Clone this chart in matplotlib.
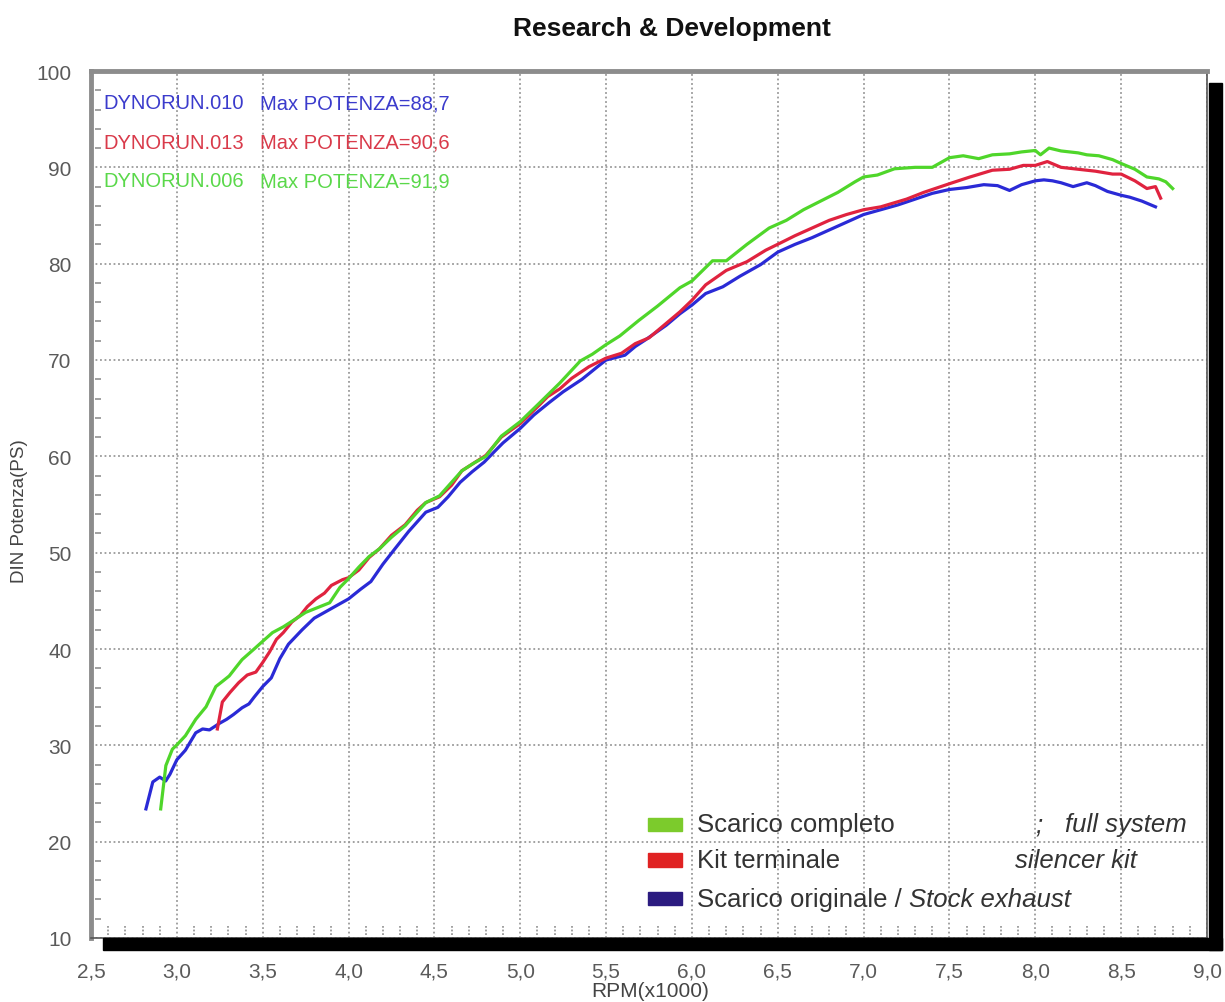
import matplotlib
matplotlib.use("Agg")
import matplotlib.pyplot as plt
from matplotlib.patches import Rectangle

plt.rcParams['font.family'] = ['Liberation Sans', 'DejaVu Sans']

# ---------------- data ----------------
stock_rpm = [2.82, 2.86, 2.90, 2.935, 2.96, 3.00, 3.05, 3.11, 3.15, 3.19, 3.25, 3.29, 3.33, 3.38,
             3.42, 3.45, 3.50, 3.55, 3.60, 3.65, 3.73, 3.80, 3.89, 3.95, 4.00, 4.07, 4.13, 4.20,
             4.27, 4.35, 4.45, 4.52, 4.58, 4.65, 4.72, 4.79, 4.85, 4.90, 5.00, 5.08, 5.17, 5.25,
             5.36, 5.45, 5.50, 5.61, 5.67, 5.73, 5.85, 5.93, 6.00, 6.08, 6.18, 6.28, 6.40, 6.50,
             6.60, 6.70, 6.80, 6.90, 7.00, 7.10, 7.20, 7.30, 7.40, 7.50, 7.60, 7.70, 7.78, 7.85,
             7.92, 8.00, 8.05, 8.10, 8.15, 8.22, 8.30, 8.35, 8.42, 8.50, 8.55, 8.62, 8.70]
stock_ps = [23.4, 26.2, 26.7, 26.3, 27.0, 28.5, 29.5, 31.3, 31.7, 31.6, 32.3, 32.7, 33.2, 33.9,
            34.3, 35.0, 36.1, 37.0, 39.0, 40.5, 42.0, 43.2, 44.1, 44.7, 45.2, 46.2, 47.0, 48.8,
            50.4, 52.2, 54.2, 54.7, 55.8, 57.3, 58.4, 59.4, 60.5, 61.4, 62.9, 64.3, 65.6, 66.7,
            68.0, 69.3, 70.0, 70.5, 71.4, 72.1, 73.6, 74.8, 75.7, 76.9, 77.6, 78.7, 79.9, 81.2,
            82.0, 82.7, 83.5, 84.3, 85.1, 85.6, 86.1, 86.7, 87.3, 87.7, 87.9, 88.2, 88.1, 87.6,
            88.2, 88.6, 88.7, 88.6, 88.4, 88.0, 88.4, 88.1, 87.5, 87.1, 86.9, 86.5, 85.9]

kit_rpm = [3.236, 3.265, 3.31, 3.36, 3.41, 3.46, 3.50, 3.54, 3.58, 3.62, 3.67, 3.72, 3.76, 3.81,
           3.86, 3.90, 3.965, 4.00, 4.06, 4.12, 4.18, 4.25, 4.33, 4.40, 4.45, 4.53, 4.60, 4.66,
           4.73, 4.80, 4.89, 5.00, 5.11, 5.16, 5.23, 5.30, 5.40, 5.50, 5.59, 5.67, 5.75, 5.85,
           5.93, 6.00, 6.08, 6.20, 6.32, 6.43, 6.51, 6.60, 6.70, 6.80, 6.90, 7.00, 7.10, 7.25,
           7.35, 7.50, 7.62, 7.75, 7.85, 7.93, 8.00, 8.07, 8.15, 8.25, 8.35, 8.45, 8.50, 8.58,
           8.65, 8.70, 8.73]
kit_ps = [31.7, 34.5, 35.5, 36.5, 37.3, 37.6, 38.6, 39.7, 41.0, 41.7, 42.8, 43.5, 44.4, 45.2,
          45.8, 46.6, 47.2, 47.4, 48.2, 49.5, 50.4, 51.8, 52.9, 54.4, 55.2, 55.8, 57.0, 58.5,
          59.3, 60.1, 62.0, 63.4, 65.3, 66.2, 67.0, 68.1, 69.3, 70.2, 70.7, 71.7, 72.3, 73.8,
          75.0, 76.2, 77.8, 79.3, 80.2, 81.4, 82.1, 82.9, 83.7, 84.5, 85.1, 85.6, 85.9, 86.7,
          87.4, 88.3, 89.0, 89.7, 89.8, 90.2, 90.2, 90.6, 90.0, 89.8, 89.6, 89.3, 89.3, 88.6,
          87.8, 88.0, 86.8]

full_rpm = [2.906, 2.936, 2.974, 3.003, 3.05, 3.11, 3.17, 3.227, 3.27, 3.305, 3.34, 3.38, 3.45,
            3.50, 3.557, 3.62, 3.69, 3.75, 3.82, 3.89, 3.95, 4.00, 4.06, 4.12, 4.18, 4.25, 4.33,
            4.40, 4.45, 4.53, 4.60, 4.66, 4.73, 4.80, 4.89, 5.00, 5.11, 5.23, 5.35, 5.42, 5.50,
            5.58, 5.69, 5.80, 5.93, 6.00, 6.12, 6.20, 6.32, 6.45, 6.55, 6.65, 6.75, 6.85, 6.95,
            7.00, 7.08, 7.18, 7.30, 7.40, 7.50, 7.58, 7.67, 7.75, 7.85, 7.92, 8.00, 8.03, 8.08,
            8.15, 8.25, 8.30, 8.37, 8.45, 8.50, 8.58, 8.65, 8.72, 8.76, 8.80]
full_ps = [23.4, 27.9, 29.6, 30.1, 31.0, 32.7, 34.0, 36.1, 36.7, 37.2, 38.0, 38.9, 40.0,
           40.8, 41.7, 42.3, 43.1, 43.8, 44.3, 44.8, 46.4, 47.3, 48.5, 49.6, 50.4, 51.6, 52.8,
           54.2, 55.2, 55.9, 57.3, 58.5, 59.3, 60.0, 62.1, 63.6, 65.5, 67.6, 69.9, 70.6, 71.6,
           72.5, 74.1, 75.6, 77.5, 78.2, 80.3, 80.3, 82.0, 83.7, 84.5, 85.6, 86.5, 87.4, 88.5,
           89.0, 89.2, 89.85, 90.0, 90.0, 91.0, 91.2, 90.9, 91.3, 91.4, 91.6, 91.75, 91.3, 92.0,
           91.7, 91.5, 91.3, 91.2, 90.8, 90.4, 89.8, 89.0, 88.8, 88.5, 87.8]

x_ticks = [2.5, 3.0, 3.5, 4.0, 4.5, 5.0, 5.5, 6.0, 6.5, 7.0, 7.5, 8.0, 8.5, 9.0]
x_labels = ["2,5", "3,0", "3,5", "4,0", "4,5", "5,0", "5,5", "6,0", "6,5", "7,0", "7,5",
            "8,0", "8,5", "9,0"]
y_ticks = [10, 20, 30, 40, 50, 60, 70, 80, 90, 100]
x_minor = [v / 10 for v in range(26, 90) if v % 5 != 0]
y_minor = [v for v in range(12, 100, 2) if v % 10 != 0]

run_names = ["DYNORUN.010", "DYNORUN.013", "DYNORUN.006"]
run_max = ["Max POTENZA=88,7", "Max POTENZA=90,6", "Max POTENZA=91,9"]
legend_it = ["Scarico completo", "Kit terminale", "Scarico originale / "]
legend_en = ["full system", "silencer kit", "Stock exhaust"]

# ---------------- figure ----------------
W, H = 1225, 1003
fig = plt.figure(figsize=(W / 100, H / 100), dpi=100)
L, R, T, B = 91, 1207, 72, 939
ax = fig.add_axes([L / W, 1 - B / H, (R - L) / W, (B - T) / H])

c_blue, c_red, c_green = "#2a2ad6", "#e0233f", "#4fd62a"

ax.plot(stock_rpm, stock_ps, color=c_blue, lw=2.3, zorder=3)
ax.plot(kit_rpm, kit_ps, color=c_red, lw=2.3, zorder=4)
ax.plot(full_rpm, full_ps, color=c_green, lw=2.3, zorder=5)

ax.set_xlim(2.5, 9.0)
ax.set_ylim(10, 100)
ax.set_xticks(x_ticks)
ax.set_xticklabels(x_labels)
ax.set_yticks(y_ticks)

ax.grid(True, which="major", color="#9a9a9a", lw=1.3, linestyle=(0, (1, 1.5)))
ax.tick_params(which="major", length=0, labelsize=15, labelcolor="#5a5a5a")
ax.tick_params(axis="x", which="major", pad=17)
ax.tick_params(axis="y", which="major", pad=14)

# dotted minor tick marks inside the frame
ax.vlines(x_minor, 0.004, 0.014, transform=ax.get_xaxis_transform(), colors="#9a9a9a",
          lw=1.3, linestyles=(0, (1, 1)), zorder=2)
ax.hlines(y_minor, 0.004, 0.009, transform=ax.get_yaxis_transform(), colors="#9a9a9a",
          lw=1.3, zorder=2)

for s in ["left", "top"]:
    ax.spines[s].set_color("#8c8c8c")
    ax.spines[s].set_linewidth(3.5)
for s in ["right", "bottom"]:
    ax.spines[s].set_color("#555555")
    ax.spines[s].set_linewidth(1.2)

# drop shadow
fig.patches.append(Rectangle((103 / W, 1 - 951 / H), (1222 - 103) / W, 12 / H,
                             transform=fig.transFigure, color="black", zorder=0))
fig.patches.append(Rectangle((1209 / W, 1 - 951 / H), 13 / W, (951 - 84) / H,
                             transform=fig.transFigure, color="black", zorder=0))

# run annotations
text_cols = ["#3b3bcc", "#d93a4a", "#5ad84a"]
ys = [96.7, 92.6, 88.6]
for name, mx, col, y in zip(run_names, run_max, text_cols, ys):
    ax.text(2.57, y, name, color=col, fontsize=14.5, va="center", ha="left")
    ax.text(3.484, y, mx, color=col, fontsize=14.5, va="center", ha="left")

# legend
patch_cols = ["#7ccb2c", "#e02222", "#2b1b80"]
ly = [21.8, 18.1, 14.1]
for col, y in zip(patch_cols, ly):
    ax.add_patch(Rectangle((5.745, y - 0.7), 0.2, 1.4, color=col, zorder=6))
fs = 18.5
ax.text(6.03, ly[0], legend_it[0], fontsize=fs, color="#333333", va="center", zorder=6)
ax.text(8.0, ly[0], ";", fontsize=fs, color="#333333", va="center", style="italic", zorder=6)
ax.text(8.88, ly[0], legend_en[0], fontsize=fs, color="#333333", va="center", ha="right",
        style="italic", zorder=6)
ax.text(6.03, ly[1], legend_it[1], fontsize=fs, color="#333333", va="center", zorder=6)
ax.text(8.59, ly[1], legend_en[1], fontsize=fs, color="#333333", va="center", ha="right",
        style="italic", zorder=6)
t2 = ax.text(6.03, ly[2], legend_it[2], fontsize=fs, color="#333333", va="center", zorder=6)
ax.annotate(legend_en[2], xy=(1, 0.5), xycoords=t2, va="center", ha="left", fontsize=fs,
            color="#333333", style="italic", zorder=6)

fig.text(672 / W, 1 - 29 / H, "Research & Development", ha="center", va="center",
         fontsize=19, fontweight="bold", color="#111111")
fig.text(20 / W, 1 - 511 / H, "DIN Potenza(PS)", rotation=90, ha="center", va="center",
         fontsize=13.5, color="#444444")
fig.text(650 / W, 1 - 992 / H, "RPM(x1000)", ha="center", va="center",
         fontsize=15, color="#444444")

fig.savefig("out.png", dpi=100)
